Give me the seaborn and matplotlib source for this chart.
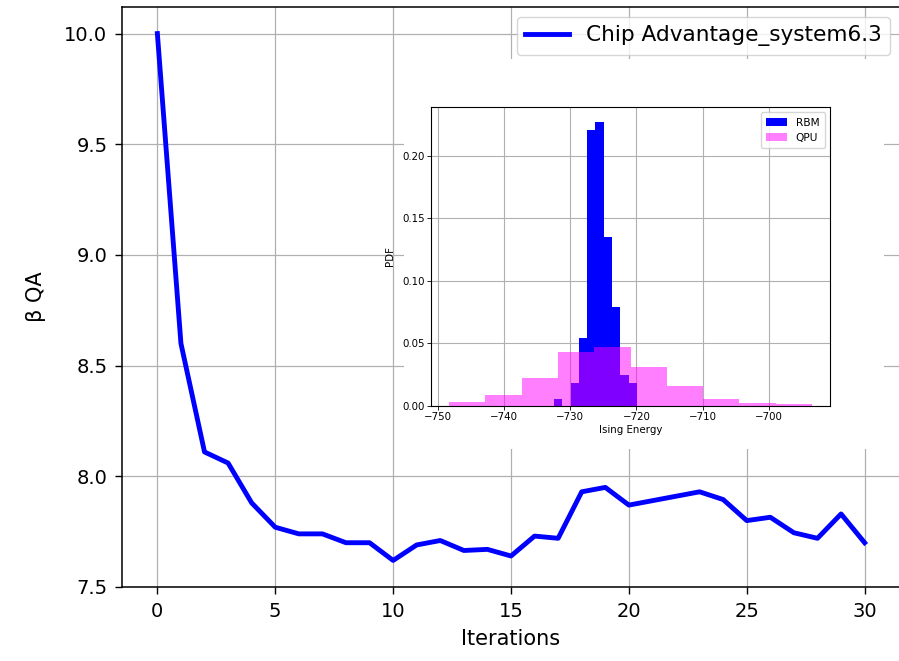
import numpy as np
import matplotlib
matplotlib.use("Agg")
import matplotlib.pyplot as plt
from matplotlib.patches import Rectangle
import seaborn as sns

# ---- data ----
iterations = list(range(31))
beta_qa = [10.0, 8.60, 8.11, 8.06, 7.88, 7.77, 7.74, 7.74, 7.70, 7.70,
           7.62, 7.69, 7.71, 7.665, 7.67, 7.64, 7.73, 7.72, 7.93, 7.95,
           7.87, 7.89, 7.91, 7.93, 7.895, 7.80, 7.815, 7.745, 7.72, 7.83, 7.70]
series_label = "Chip Advantage_system6.3"

rbm_edges = [-732.5, -731.24, -729.98, -728.72, -727.46, -726.2,
             -724.94, -723.68, -722.42, -721.16, -719.9]
rbm_pdf = [0.0059, 0.0, 0.018, 0.0547, 0.2205, 0.2272, 0.135, 0.0792, 0.0246, 0.018]

qpu_edges = [-748.35, -742.86, -737.37, -731.88, -726.39, -720.9,
             -715.41, -709.92, -704.43, -698.94, -693.45]
qpu_pdf = [0.0032, 0.0085, 0.0223, 0.0433, 0.0472, 0.0312, 0.0162, 0.0059, 0.0021, 0.0013]

# ---- figure ----
W, H = 899, 661
fig = plt.figure(figsize=(W / 100, H / 100), dpi=100)
ax = fig.add_axes([122 / W, 74 / H, 778 / W, 580 / H])
sns.lineplot(x=iterations, y=beta_qa, ax=ax, color="blue", linewidth=3.5,
             label=series_label)
ax.grid(True, color="#b0b0b0", linewidth=0.9)
ax.set_xlim(-1.5, 31.5)
ax.set_ylim(7.5, 10.12)
ax.set_xlabel("Iterations", fontsize=15, labelpad=6)
ax.set_ylabel("β QA", fontsize=15, labelpad=13)
ax.tick_params(labelsize=14, length=5, width=1, pad=5.5)
ax.legend(loc="upper right", fontsize=15.6, borderaxespad=0.45)
for s in ax.spines.values():
    s.set_linewidth(1.1)

# white backdrop of the inset picture
fig.add_artist(Rectangle((404 / W, (H - 449) / H), 480 / W, 390 / H,
                         transform=fig.transFigure, facecolor="white",
                         edgecolor="none", zorder=1))

# ---- inset ----
axi = fig.add_axes([431 / W, (H - 406) / H, 399 / W, 299 / H])
axi.set_zorder(2)
rbm_centers = [(a + b) / 2 for a, b in zip(rbm_edges[:-1], rbm_edges[1:])]
qpu_centers = [(a + b) / 2 for a, b in zip(qpu_edges[:-1], qpu_edges[1:])]
sns.histplot(x=rbm_centers, weights=rbm_pdf, bins=rbm_edges, stat="count",
             color="blue", alpha=1.0, linewidth=0, ax=axi, label="RBM")
sns.histplot(x=qpu_centers, weights=qpu_pdf, bins=qpu_edges, stat="count",
             color="magenta", alpha=0.5, linewidth=0, ax=axi, label="QPU")
axi.grid(True, color="#b0b0b0", linewidth=0.8)
axi.set_axisbelow(True)
axi.set_xlabel("Ising Energy", fontsize=7.4, labelpad=2)
axi.set_ylabel("PDF", fontsize=7.4, labelpad=5)
axi.tick_params(labelsize=7.4, length=2.6, width=0.6, pad=2)
axi.set_xticks([-750, -740, -730, -720, -710, -700])
axi.set_yticks([0.0, 0.05, 0.10, 0.15, 0.20])
axi.yaxis.set_major_formatter(matplotlib.ticker.FormatStrFormatter("%.2f"))
axi.margins(x=0.05)
axi.set_ylim(0, 0.239)
for s in axi.spines.values():
    s.set_linewidth(0.8)
axi.legend(loc="upper right", fontsize=7.6, borderpad=0.5)

fig.savefig("out.png", dpi=100)
